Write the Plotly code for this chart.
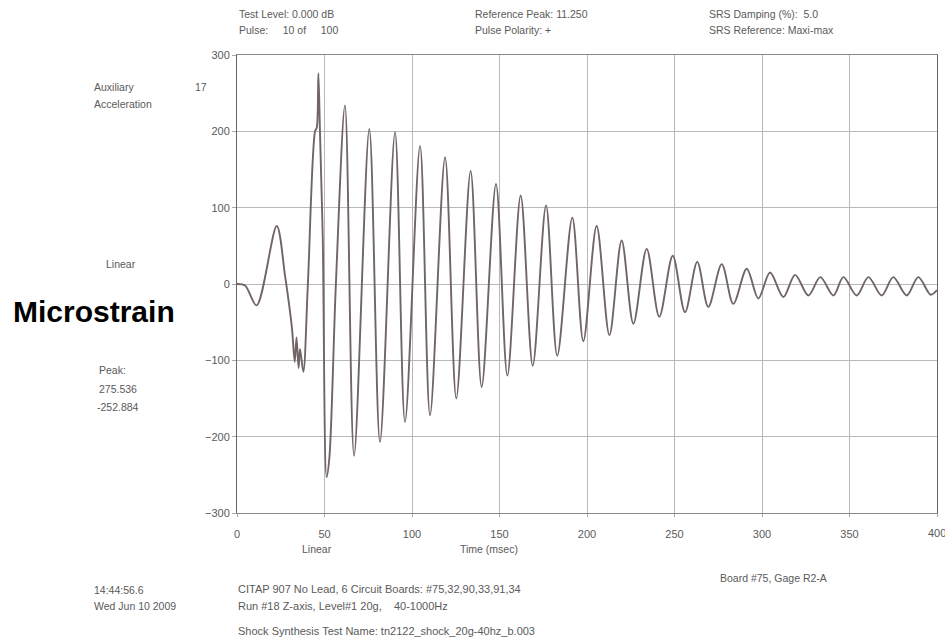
import plotly.graph_objects as go

# Time (msec) and microstrain values (extrema and detail points)
time_ms = [0, 4.6, 11.2, 22.7, 27.5, 30.5, 31.5, 33.0, 34.0, 35.2, 36.0, 37.9, 40.5,
           44.6, 45.6, 46.5, 47.4, 49.0, 51.2, 52.8, 56.5,
           61.7, 66.9, 75.6, 81.7, 90.3, 96.0, 104.6, 110.3, 118.9, 125.3,
           133.5, 139.8, 148.0, 154.5, 162.1, 169.0, 176.6, 183.0, 191.6, 197.9,
           205.5, 212.8, 219.8, 226.5, 234.1, 241.3, 249.0, 256.0, 263.0, 269.3,
           277.0, 283.6, 291.3, 297.9, 304.6, 312.2, 318.9, 326.5, 333.3, 340.8,
           346.5, 354.1, 360.8, 368.4, 375.0, 382.7, 389.3, 396.4, 400.0]
microstrain = [0, -2, -28, 76, 10, -40, -60, -102, -70, -110, -85, -115, 0,
               200, 205, 276, 200, 60, -253, -227, 0,
               234, -225, 203, -207, 199, -181, 181, -172, 166, -150,
               148, -135, 131, -120, 116, -107, 103, -94, 87, -75,
               76, -67, 57, -52, 46, -43, 37, -37, 29, -30,
               26, -26, 20, -19, 15, -17, 12, -15, 9, -15,
               9, -15, 9, -15, 9, -15, 9, -14, -8]

x_ticks = [0, 50, 100, 150, 200, 250, 300, 350, 400]
y_ticks = [-300, -200, -100, 0, 100, 200, 300]

FONT = "Liberation Sans, Arial, sans-serif"
TXT = "#5a5a5a"

fig = go.Figure()
fig.add_trace(go.Scatter(
    x=time_ms, y=microstrain, mode="lines",
    line=dict(color="#716565", width=1.9, shape="spline", smoothing=0.9),
    showlegend=False, hoverinfo="skip"))

fig.update_layout(
    width=945, height=639,
    margin=dict(l=237, r=8, t=55, b=126),
    paper_bgcolor="white", plot_bgcolor="white",
    font=dict(family=FONT, size=11, color=TXT),
)
fig.update_xaxes(range=[0, 400], tickvals=x_ticks, showgrid=True,
                 gridcolor="#b8b8b8", gridwidth=1, showline=True, linecolor="#888888",
                 mirror=True, zeroline=False, ticks="outside", ticklen=3,
                 tickcolor="#aaaaaa", ticklabelstandoff=8,
                 tickfont=dict(size=11, color=TXT, family=FONT))
fig.update_yaxes(range=[-300, 300], tickvals=y_ticks, showgrid=True,
                 gridcolor="#b8b8b8", gridwidth=1, showline=True, linecolor="#666666",
                 mirror=True, zeroline=False, ticks="outside", ticklen=4,
                 tickcolor="#aaaaaa", tickfont=dict(size=11, color=TXT, family=FONT))

def txt(x, y, s, size=11, color=TXT, family=FONT, xanchor="left"):
    fig.add_annotation(x=x, y=y, xref="paper", yref="paper", text=s, showarrow=False,
                       xanchor=xanchor, yanchor="middle",
                       font=dict(size=size, color=color, family=family))

# convert pixel positions to paper coordinates
L, R, T, B = 237, 937, 55, 513
def px(xp):
    return (xp - L) / (R - L)
def py(yp):
    return (B - yp) / (B - T)

txt(px(237), py(14), "Test Level: 0.000 dB", size=10.5)
txt(px(237), py(30), "Pulse:     10 of     100", size=10.5)
txt(px(473), py(14), "Reference Peak: 11.250", size=10.5)
txt(px(473), py(30), "Pulse Polarity: +", size=10.5)
txt(px(707), py(14), "SRS Damping (%):  5.0", size=10.5)
txt(px(707), py(30), "SRS Reference: Maxi-max", size=10.5)

txt(px(92), py(87), "Auxiliary", size=10.5)
txt(px(193), py(87), "17", size=10.5)
txt(px(92), py(104), "Acceleration", size=10.5)
txt(px(104), py(264), "Linear", size=10.5)
txt(px(11), py(312), "<b>Microstrain</b>", size=30, color="#000000",
    family="Liberation Sans, Arial, sans-serif")
txt(px(97), py(370), "Peak:", size=10.5)
txt(px(97), py(389), "275.536", size=10.5)
txt(px(95), py(407), "-252.884", size=10.5)

# right-most x tick label, cut by the page edge as in the original
fig.add_annotation(x=400, y=0, xref="x", yref="paper", yshift=-20, text="400",
                   showarrow=False, xanchor="center", yanchor="middle",
                   font=dict(size=11, color=TXT, family=FONT))

txt(px(300), py(549), "Linear", size=10.5)
txt(px(458), py(549), "Time (msec)", size=10.5)

txt(px(92), py(590), "14:44:56.6", size=10.5)
txt(px(92), py(606), "Wed Jun 10 2009", size=10.5)
txt(px(236), py(589), "CITAP 907 No Lead, 6 Circuit Boards: #75,32,90,33,91,34")
txt(px(236), py(606), "Run #18 Z-axis, Level#1 20g,    40-1000Hz")
txt(px(236), py(631), "Shock Synthesis Test Name: tn2122_shock_20g-40hz_b.003")
txt(px(718), py(578), "Board #75, Gage R2-A", size=10.5)

fig.write_html("out.html")
